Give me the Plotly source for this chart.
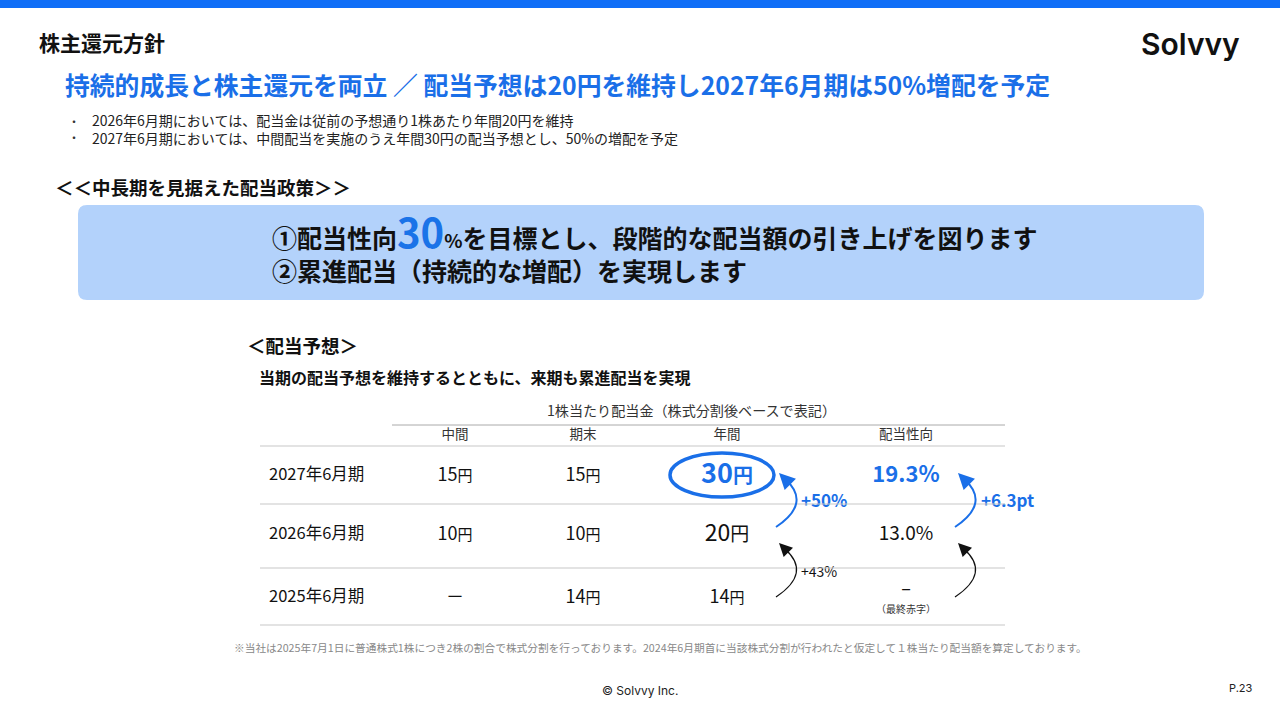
import plotly.graph_objects as go

# table data
periods = ["2027年6月期", "2026年6月期", "2025年6月期"]
interim = ["15", "10", "－"]
year_end = ["15", "10", "14"]
annual = ["30", "20", "14"]
payout = ["19.3%", "13.0%", "–"]
payout_note = ["", "", "（最終赤字）"]
col_heads = ["中間", "期末", "年間", "配当性向"]
annual_growth = ["+50%", "+43%"]
payout_growth = ["+6.3pt", ""]

bullets = [
    "2026年6月期においては、配当金は従前の予想通り1株あたり年間20円を維持",
    "2027年6月期においては、中間配当を実施のうえ年間30円の配当予想とし、50%の増配を予定",
]

JP = "Noto Sans CJK JP"
BLUE = "#1a6fe8"
BLACK = "#111111"

# layout grid (pixel-like coordinates)
row_y = [476, 535, 598]
col_x = [455, 583, 727, 906]
label_x = 269

fig = go.Figure()


def yen(v, size):
    if v == "－":
        return v
    return f"{v}<span style='font-size:{size}px'>円</span>"


# row labels
fig.add_trace(go.Scatter(x=[label_x] * 3, y=row_y, mode="text", text=periods,
                         textposition="middle right",
                         textfont=dict(family=JP, size=16.5, color=BLACK)))
# interim / year end
fig.add_trace(go.Scatter(x=[col_x[0]] * 3, y=row_y, mode="text",
                         text=[yen(v, 15) for v in interim],
                         textfont=dict(family=JP, size=18, color=BLACK)))
fig.add_trace(go.Scatter(x=[col_x[1]] * 3, y=row_y, mode="text",
                         text=[yen(v, 15) for v in year_end],
                         textfont=dict(family=JP, size=18, color=BLACK)))
# annual
ann_text = [f"<b>{annual[0]}<span style='font-size:20px'>円</span></b>",
            yen(annual[1], 19), yen(annual[2], 15)]
fig.add_trace(go.Scatter(x=[col_x[2]] * 3, y=row_y, mode="text", text=ann_text,
                         textfont=dict(family=JP, size=[27, 23, 18],
                                       color=[BLUE, BLACK, BLACK])))
# payout
pay_text = [f"<b>{payout[0]}</b>", payout[1], payout[2]]
fig.add_trace(go.Scatter(x=[col_x[3]] * 3, y=[row_y[0], row_y[1], row_y[2] - 8],
                         mode="text", text=pay_text,
                         textfont=dict(family=JP, size=[22, 19, 18],
                                       color=[BLUE, BLACK, BLACK])))
fig.add_trace(go.Scatter(x=[col_x[3]], y=[row_y[2] + 12], mode="text",
                         text=[payout_note[2]],
                         textfont=dict(family=JP, size=10, color="#333333")))
# column headers
fig.add_trace(go.Scatter(x=col_x, y=[436] * 4, mode="text", text=col_heads,
                         textfont=dict(family=JP, size=13.5, color="#333333")))

shapes = []
# top bar
shapes.append(dict(type="rect", x0=0, x1=1280, y0=0, y1=8, fillcolor="#0f6ef7",
                   line_width=0))
# light blue rounded box
x0, x1, y0, y1, r = 78, 1204, 205, 300, 9
shapes.append(dict(type="path", fillcolor="#b3d2fb", line_width=0,
                   path=(f"M {x0+r},{y0} L {x1-r},{y0} Q {x1},{y0} {x1},{y0+r} "
                         f"L {x1},{y1-r} Q {x1},{y1} {x1-r},{y1} L {x0+r},{y1} "
                         f"Q {x0},{y1} {x0},{y1-r} L {x0},{y0+r} Q {x0},{y0} {x0+r},{y0} Z")))
# table lines
shapes.append(dict(type="line", x0=392, x1=1005, y0=425, y1=425,
                   line=dict(color="#aaaaaa", width=1)))
for yy in [446, 504, 568, 625]:
    shapes.append(dict(type="line", x0=260, x1=1005, y0=yy, y1=yy,
                       line=dict(color="#c8c8c8", width=1.2)))
# ellipse around 30円
shapes.append(dict(type="circle", x0=670, x1=774, y0=453, y1=497,
                   line=dict(color=BLUE, width=3.5)))

# curved arrows
arrows = [
    (776, 527, 812, 503, 785, 479, BLUE, 2),
    (776, 597, 812, 573, 785, 549, BLACK, 1.2),
    (955, 527, 991, 503, 964, 479, BLUE, 2),
    (955, 597, 991, 573, 964, 549, BLACK, 1.2),
]
annotations = []
for sx, sy, cx, cy, ex, ey, colr, w in arrows:
    shapes.append(dict(type="path", path=f"M {sx},{sy} Q {cx},{cy} {ex},{ey}",
                       line=dict(color=colr, width=w)))
    annotations.append(dict(x=ex - 6, y=ey - 6, ax=ex + 2, ay=ey + 2,
                            xref="x", yref="y", axref="x", ayref="y", text="",
                            showarrow=True, arrowhead=2, arrowsize=1.6 if w > 1.5 else 2.2,
                            arrowwidth=w, arrowcolor=colr))

# growth labels
fig.add_trace(go.Scatter(x=[801, 801], y=[503, 573], mode="text",
                         text=[f"<b>{annual_growth[0]}</b>", annual_growth[1]],
                         textposition="middle right",
                         textfont=dict(family=JP, size=[17, 14], color=[BLUE, BLACK])))
fig.add_trace(go.Scatter(x=[981], y=[503], mode="text",
                         text=[f"<b>{payout_growth[0]}</b>"],
                         textposition="middle right",
                         textfont=dict(family=JP, size=17, color=BLUE)))


def note(x, y, text, size, color=BLACK, anchor="left", family=JP, bold=False):
    annotations.append(dict(x=x, y=y, xref="x", yref="y", text=f"<b>{text}</b>" if bold else text,
                            showarrow=False, xanchor=anchor, yanchor="middle", align="left",
                            font=dict(family=family, size=size, color=color)))


note(37, 42, "株主還元方針", 21, bold=True)
annotations.append(dict(x=1242, y=44, xref="x", yref="y", text="Solvvy", showarrow=False,
                        xanchor="right", yanchor="middle",
                        font=dict(family="Inter", size=30, color=BLACK, weight=600)))
note(63, 84, "持続的成長と株主還元を両立 ／ 配当予想は20円を維持し2027年6月期は50%増配を予定",
     24.8, color=BLUE, bold=True)
note(66, 129, "・<br>・", 12, color="#333333")
note(90, 129, "<br>".join(bullets), 14, color="#222222")
note(53, 187, "＜＜中長期を見据えた配当政策＞＞", 18.5, bold=True)
note(270, 245, "①配当性向<span style='font-size:40px;color:#1a73e8'>30</span>"
     "<span style='font-size:19px'>%</span>を目標とし、段階的な配当額の引き上げを図ります"
     "<br>②累進配当（持続的な増配）を実現します", 25, bold=True)
note(245, 345, "＜配当予想＞", 18.5, bold=True)
note(257, 377, "当期の配当予想を維持するとともに、来期も累進配当を実現", 16, bold=True)
note(691, 410, "1株当たり配当金（株式分割後ベースで表記）", 14.1, color="#333333", anchor="center")
note(660, 647, "※当社は2025年7月1日に普通株式1株につき2株の割合で株式分割を行っております。"
     "2024年6月期首に当該株式分割が行われたと仮定して１株当たり配当額を算定しております。",
     10.7, color="#888888", anchor="center")
note(640, 690, "© Solvvy Inc.", 12, color="#222222", anchor="center", family="Inter")
note(1255, 688, "P.23", 11, color="#222222", anchor="right", family="Inter")

fig.update_layout(
    width=1280, height=720, margin=dict(l=0, r=0, t=0, b=0),
    paper_bgcolor="white", plot_bgcolor="white", showlegend=False,
    xaxis=dict(range=[0, 1280], visible=False, fixedrange=True),
    yaxis=dict(range=[720, 0], visible=False, fixedrange=True),
    shapes=shapes, annotations=annotations,
)
fig.write_html("out.html", config={"displayModeBar": False},
               post_script="document.body.style.margin='0';")
